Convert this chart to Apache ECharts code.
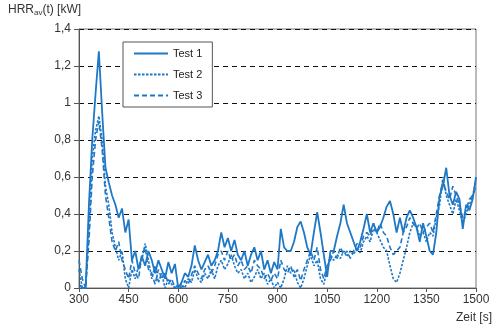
<!DOCTYPE html>
<html>
<head>
<meta charset="utf-8">
<script src="https://cdn.jsdelivr.net/npm/echarts@6/dist/echarts.min.js"></script>
<style>html,body{margin:0;padding:0;background:#fff}#c{width:495px;height:331px}</style>
</head>
<body>
<div id="c"></div>
<script>
var times = [];
for (var t = 300; t <= 1500; t += 10) times.push(t);

var test1 = [0.02,0.0,0.0,0.45,0.8,1.05,1.28,0.95,0.65,0.57,0.5,0.45,0.38,0.43,0.3,0.37,0.15,0.2,0.1,0.17,
0.12,0.2,0.15,0.08,0.15,0.1,0.05,0.14,0.08,0.13,0.0,0.03,0.08,0.06,0.12,0.23,0.15,0.1,0.14,0.18,
0.12,0.15,0.2,0.3,0.22,0.27,0.2,0.26,0.18,0.15,0.2,0.12,0.18,0.22,0.15,0.2,0.1,0.15,0.08,0.14,
0.1,0.32,0.22,0.2,0.2,0.25,0.33,0.36,0.3,0.22,0.18,0.3,0.41,0.3,0.18,0.06,0.2,0.2,0.28,0.35,
0.45,0.35,0.3,0.25,0.2,0.25,0.32,0.4,0.3,0.35,0.3,0.33,0.38,0.44,0.47,0.4,0.3,0.38,0.3,0.38,
0.42,0.38,0.33,0.25,0.35,0.28,0.2,0.18,0.3,0.5,0.55,0.65,0.5,0.45,0.52,0.48,0.32,0.45,0.42,0.48,0.6];

var test2 = [0.1,0.0,0.0,0.3,0.7,0.85,0.93,0.8,0.55,0.45,0.3,0.22,0.15,0.2,0.05,0.0,0.1,0.05,0.12,0.15,
0.24,0.15,0.05,0.12,0.03,0.08,0.0,0.05,0.02,0.0,0.0,0.02,0.0,0.05,0.03,0.1,0.05,0.03,0.08,0.05,
0.1,0.05,0.12,0.15,0.1,0.13,0.18,0.12,0.08,0.1,0.05,0.08,0.03,0.06,0.1,0.05,0.08,0.02,0.05,0.0,
0.03,0.0,0.05,0.12,0.08,0.1,0.03,0.0,0.05,0.12,0.18,0.12,0.15,0.05,0.02,0.1,0.18,0.15,0.18,0.16,
0.2,0.17,0.2,0.18,0.22,0.19,0.25,0.28,0.25,0.32,0.3,0.26,0.22,0.2,0.12,0.05,0.03,0.08,0.15,0.22,
0.3,0.35,0.33,0.28,0.3,0.25,0.3,0.28,0.38,0.45,0.6,0.5,0.45,0.4,0.48,0.42,0.35,0.4,0.45,0.5,0.58];

var test3 = [0.15,0.05,0.0,0.25,0.6,0.8,0.9,0.75,0.5,0.38,0.25,0.2,0.25,0.15,0.1,0.05,0.15,0.08,0.05,0.18,
0.22,0.1,0.08,0.02,0.1,0.05,0.08,0.02,0.05,0.0,0.02,0.0,0.04,0.02,0.07,0.12,0.08,0.05,0.1,0.12,
0.08,0.12,0.18,0.2,0.15,0.2,0.15,0.18,0.12,0.15,0.1,0.12,0.08,0.15,0.12,0.1,0.05,0.08,0.04,0.08,
0.05,0.15,0.1,0.08,0.12,0.06,0.1,0.04,0.1,0.15,0.2,0.15,0.22,0.1,0.05,0.12,0.15,0.2,0.16,0.22,
0.18,0.2,0.16,0.2,0.24,0.22,0.28,0.3,0.28,0.35,0.3,0.35,0.3,0.28,0.22,0.18,0.2,0.22,0.3,0.33,
0.38,0.35,0.32,0.35,0.3,0.33,0.35,0.3,0.4,0.5,0.58,0.52,0.48,0.55,0.5,0.45,0.38,0.42,0.48,0.5,0.55];

var seriesNames = ['Test 1', 'Test 2', 'Test 3'];

function pairs(arr) { return arr.map(function (v, i) { return [times[i], v]; }); }

var blue = '#1f78c6';
var font = 'Liberation Sans, Arial, sans-serif';
var chart = echarts.init(document.getElementById('c'));
chart.setOption({
  animation: false,
  grid: { left: 79, right: 19, top: 29, bottom: 43, show: true, borderColor: '#777', borderWidth: 1 },
  legend: {
    left: 123, top: 42, orient: 'vertical',
    data: seriesNames,
    itemWidth: 34, itemHeight: 10, itemGap: 10,
    padding: [6, 10, 6, 10],
    borderColor: '#555', borderWidth: 1, backgroundColor: '#fff',
    itemStyle: { opacity: 0 },
    textStyle: { fontFamily: font, fontSize: 11, color: '#222' }
  },
  xAxis: {
    type: 'value', min: 300, max: 1500, interval: 150,
    axisLine: { lineStyle: { color: '#555', width: 1 } },
    axisTick: { show: true, length: 4, lineStyle: { color: '#555' } },
    axisLabel: { fontFamily: font, fontSize: 12, color: '#333', margin: 6,
      formatter: function (v) { return String(v); } },
    splitLine: { show: false }
  },
  yAxis: {
    type: 'value', min: 0, max: 1.4, interval: 0.2,
    axisLine: { show: true, lineStyle: { color: '#555', width: 1 } },
    axisTick: { show: true, length: 5, lineStyle: { color: '#555' } },
    axisLabel: { fontFamily: font, fontSize: 12, color: '#333', margin: 8,
      formatter: function (v) { return String(+v.toFixed(1)).replace('.', ','); } },
    splitLine: { show: true, lineStyle: { color: '#111', type: [5, 4], width: 1 } }
  },
  graphic: [
    { type: 'text', left: 8, top: 4, style: {
        text: '{a|HRR}{b|av}{a|(t) [kW]}',
        rich: { a: { fontFamily: font, fontSize: 12, fill: '#333' },
                b: { fontFamily: font, fontSize: 8, fill: '#333', verticalAlign: 'bottom', padding: [6, 0, 0, 0] } } } },
    { type: 'text', right: 3, top: 312, style: { text: 'Zeit [s]', fontFamily: font, fontSize: 12, fill: '#333' } }
  ],
  series: [
    { name: seriesNames[0], type: 'line', data: pairs(test1), symbol: 'none',
      lineStyle: { color: blue, width: 1.8, type: 'solid' }, itemStyle: { color: blue }, z: 4 },
    { name: seriesNames[1], type: 'line', data: pairs(test2), symbol: 'none',
      lineStyle: { color: blue, width: 1.6, type: [2.5, 1.5] }, itemStyle: { color: blue }, z: 3 },
    { name: seriesNames[2], type: 'line', data: pairs(test3), symbol: 'none',
      lineStyle: { color: blue, width: 1.6, type: [5, 3] }, itemStyle: { color: blue }, z: 2 }
  ]
});
</script>
</body>
</html>
